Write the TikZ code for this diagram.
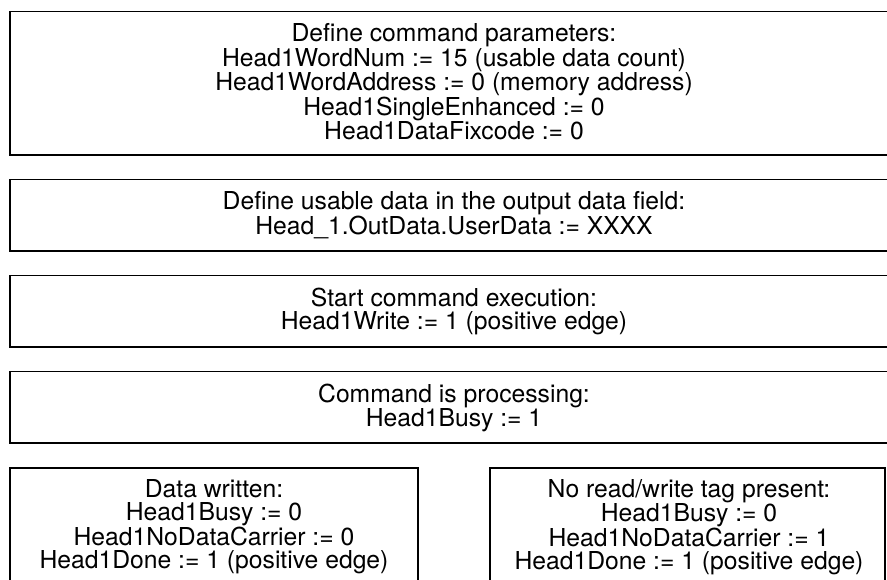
\documentclass[tikz,border=0pt]{standalone}
\usepackage{fontspec}
\setmainfont{TeX Gyre Heros}
\begin{document}
\begin{tikzpicture}[x=1pt,y=-1pt,
  box/.style={draw=black, line width=1.3pt, inner sep=0pt, fill=none},
  txt/.style={inner sep=0pt, align=center, anchor=north,
    font=\fontsize{24.7pt}{23.1pt}\selectfont}]
\useasboundingbox (0,0) rectangle (887,580);
\clip (0,0) rectangle (887,580);
\fill[white] (0,0) rectangle (887,580);
% boxes
\node[box, minimum width=888pt, minimum height=143.3pt] (b1) at (454,83.35) {};
\node[box, minimum width=888pt, minimum height=71.5pt] (b2) at (454,215.25) {};
\node[box, minimum width=888pt, minimum height=71.3pt] (b3) at (454,311.35) {};
\node[box, minimum width=888pt, minimum height=71.3pt] (b4) at (454,407.35) {};
\node[box, minimum width=408pt, minimum height=124pt] (b5) at (214,530) {};
\node[box, minimum width=395pt, minimum height=124pt] (b6) at (687.5,530) {};
% texts
\node[txt] (t1) at ([yshift=-12.6pt]b1.north) {Define command parameters:\\
Head1WordNum := 15 (usable data count)\\
Head1WordAddress := 0 (memory address)\\
Head1SingleEnhanced := 0\\
Head1DataFixcode := 0};
\node[txt] (t2) at ([yshift=-12.6pt]b2.north) {Define usable data in the output data field:\\
Head\_1.OutData.UserData := XXXX};
\node[txt] (t3) at ([yshift=-12.4pt]b3.north) {Start command execution:\\
Head1Write := 1 (positive edge)};
\node[txt] (t4) at ([yshift=-12.4pt]b4.north) {Command is processing:\\
Head1Busy := 1};
\node[txt] (t5) at ([yshift=-12pt]b5.north) {Data written:\\
Head1Busy := 0\\
Head1NoDataCarrier := 0\\
Head1Done := 1 (positive edge)};
\node[txt] (t6) at ([xshift=1.5pt,yshift=-12pt]b6.north) {No read/write tag present:\\
Head1Busy := 0\\
Head1NoDataCarrier := 1\\
Head1Done := 1 (positive edge)};
\end{tikzpicture}
\end{document}
